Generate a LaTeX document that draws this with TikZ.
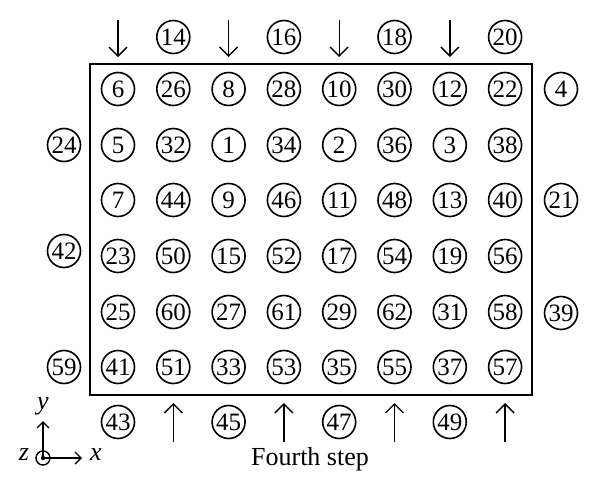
\documentclass[tikz,border=0pt]{standalone}
\usepackage{fontspec}
\setmainfont{Liberation Serif}
\usetikzlibrary{arrows.meta}
\begin{document}
\begin{tikzpicture}[x=1pt,y=-1pt,
  num/.style={circle,draw,line width=1.6pt,minimum size=33pt,inner sep=0pt,
    font=\fontsize{25}{25}\selectfont},
  flow/.style={line width=1.4pt,-{Straight Barb[length=9pt,width=18pt,line width=1.4pt]}},
  frame/.style={line width=1.6pt},
  axis/.style={line width=1.4pt,-{Straight Barb[length=6pt,width=12pt,line width=1.4pt]}},
  lbl/.style={font=\fontsize{26}{26}\selectfont\itshape,inner sep=0pt}]
\useasboundingbox (0,0) rectangle (600,498);
\draw[frame] (90,64) rectangle (532,395);
% grid
\foreach \row [count=\r] in {
  {6,26,8,28,10,30,12,22},
  {5,32,1,34,2,36,3,38},
  {7,44,9,46,11,48,13,40},
  {23,50,15,52,17,54,19,56},
  {25,60,27,61,29,62,31,58},
  {41,51,33,53,35,55,37,57}}{
  \foreach \v [count=\c] in \row {
    \pgfmathsetmacro{\xx}{118+55.3*(\c-1)}
    \pgfmathsetmacro{\yy}{{89,145,200,256,312,367}[\r-1]}
    \node[num] (g-\r-\c) at (\xx,\yy) {\v};
  }
}
% top
\node[num] (t14) at (173.3,37) {14};
\node[num] (t16) at (283.9,37) {16};
\node[num] (t18) at (394.5,37) {18};
\node[num] (t20) at (505.1,37) {20};
\foreach \x [count=\i] in {118,228.6,339.2,449.8}{
  \coordinate (ta\i) at (\x,20);
  \coordinate (tb\i) at (\x,57);
  \draw[flow] (ta\i) -- (tb\i);
}
% bottom
\node[num] (b43) at (118,422) {43};
\node[num] (b45) at (228.6,422) {45};
\node[num] (b47) at (339.2,422) {47};
\node[num] (b49) at (449.8,422) {49};
\foreach \x [count=\i] in {173.3,283.9,394.5,505.1}{
  \coordinate (ba\i) at (\x,442);
  \coordinate (bb\i) at (\x,403);
  \draw[flow] (ba\i) -- (bb\i);
}
% sides
\node[num] (l24) at (64,145) {24};
\node[num] (l42) at (64,251) {42};
\node[num] (l59) at (64,367) {59};
\node[num] (r4) at (561,89) {4};
\node[num] (r21) at (561,200) {21};
\node[num] (r39) at (561,313) {39};
% axes
\coordinate (o) at (43,458);
\coordinate (ox) at (82,458);
\coordinate (oy) at (43,421);
\draw[line width=1.4pt] (o) circle (7pt);
\fill (o) circle (2.2pt);
\draw[axis] (o) -- (ox);
\draw[axis] (o) -- (oy);
\node[lbl] (lx) at (96,455) {x};
\node[lbl] (ly) at (43,406) {y};
\node[lbl] (lz) at (24,455) {z};
% caption
\node[font=\fontsize{26}{26}\selectfont,inner sep=0pt] (cap) at (310,459) {Fourth step};
\end{tikzpicture}
\end{document}
